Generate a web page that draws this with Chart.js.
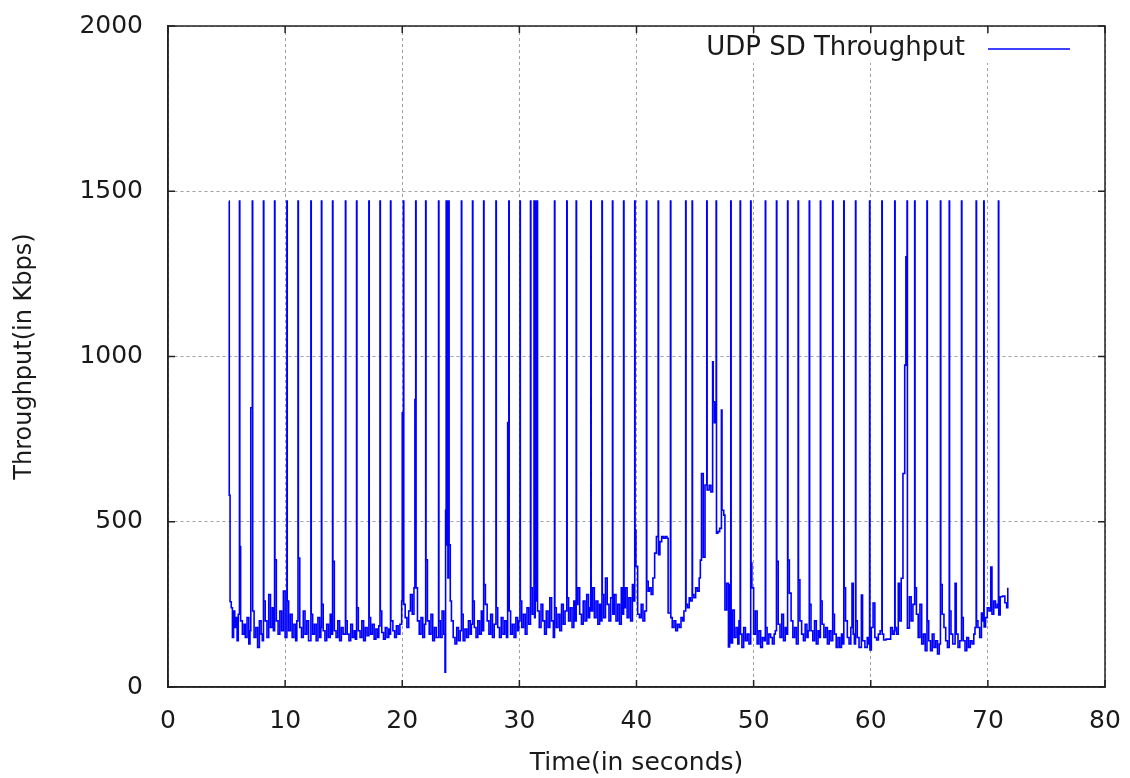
<!DOCTYPE html>
<html>
<head>
<meta charset="utf-8">
<title>UDP SD Throughput</title>
<script src="https://cdn.jsdelivr.net/npm/chart.js@4.4.0/dist/chart.umd.min.js"></script>
<style>
  html, body { margin: 0; padding: 0; background: #fff; }
  #throughput-chart { display: block; }
</style>
</head>
<body>
<canvas id="throughput-chart" width="1130" height="778"></canvas>
<script>
// --- DATA ---
const seriesLabel = 'UDP SD Throughput';
const xTitle = 'Time(in seconds)';
const yTitle = 'Throughput(in Kbps)';
const xTicks = [0, 10, 20, 30, 40, 50, 60, 70, 80];
const yTicks = [0, 500, 1000, 1500, 2000];

// one line per burst (spike) interval
const timeSec = [
    5.2, 5.23, 5.3, 5.4, 5.5, 5.6, 5.7, 5.8, 5.9, 6.0,
    6.1, 6.13, 6.2, 6.35, 6.5, 6.6, 6.75, 6.9, 7.0, 7.07,
    7.2, 7.23, 7.35, 7.5, 7.65, 7.8, 7.95, 8.05,
    8.15, 8.18, 8.3, 8.45, 8.6, 8.75, 8.9, 9.0,
    9.1, 9.13, 9.25, 9.4, 9.55, 9.7, 9.85, 10.0,
    10.15, 10.18, 10.3, 10.45, 10.6, 10.75, 10.9, 11.0,
    11.1, 11.13, 11.25, 11.4, 11.55, 11.7, 11.85, 12.0,
    12.2, 12.23, 12.35, 12.5, 12.65, 12.8, 12.95, 13.05,
    13.1, 13.13, 13.25, 13.4, 13.55, 13.7, 13.85, 13.95,
    14.05, 14.08, 14.2, 14.35, 14.5, 14.65, 14.8, 14.95,
    15.15, 15.18, 15.3, 15.45, 15.6, 15.75, 15.9, 16.0,
    16.1, 16.13, 16.25, 16.4, 16.55, 16.7, 16.85, 17.0,
    17.15, 17.18, 17.3, 17.45, 17.6, 17.75, 17.9, 18.0,
    18.1, 18.13, 18.25, 18.4, 18.55, 18.7, 18.85, 18.95,
    19.0, 19.03, 19.2, 19.35, 19.5, 19.65, 19.8, 19.95, 20.0,
    20.1, 20.13, 20.25, 20.4, 20.55, 20.7, 20.85, 21.0, 21.08,
    21.15, 21.18, 21.3, 21.45, 21.6, 21.75, 21.9,
    22.0, 22.03, 22.15, 22.3, 22.45, 22.6, 22.75, 22.9,
    23.1, 23.13, 23.25, 23.4, 23.55, 23.65, 23.7,
    23.75, 23.8, 23.85, 23.9, 23.95, 24.0, 24.1, 24.2, 24.35, 24.5, 24.65, 24.8, 24.95,
    25.05, 25.08, 25.2, 25.35, 25.5, 25.65, 25.8, 25.9,
    26.0, 26.03, 26.15, 26.3, 26.45, 26.6, 26.75, 26.85,
    26.95, 26.98, 27.1, 27.25, 27.4, 27.55, 27.7, 27.85,
    28.0, 28.03, 28.15, 28.3, 28.45, 28.6, 28.75, 28.9, 29.0,
    29.1, 29.13, 29.25, 29.4, 29.55, 29.7, 29.85, 29.95,
    30.05, 30.08, 30.2, 30.35, 30.5, 30.65, 30.8,
    30.95, 30.98, 31.1, 31.25, 31.3, 31.35, 31.42, 31.5, 31.55, 31.7, 31.85, 32.0, 32.15, 32.3, 32.45, 32.6, 32.75, 32.9,
    33.0, 33.03, 33.15, 33.3, 33.45, 33.6, 33.75, 33.9,
    34.05, 34.08, 34.2, 34.35, 34.5, 34.65, 34.75,
    34.85, 34.88, 35.0, 35.15, 35.3, 35.45, 35.6, 35.75, 35.9, 36.0,
    36.1, 36.13, 36.25, 36.4, 36.55, 36.7, 36.85, 36.95,
    37.05, 37.08, 37.2, 37.35, 37.5, 37.65, 37.8,
    37.95, 37.98, 38.1, 38.25, 38.4, 38.55, 38.7, 38.8,
    38.9, 38.93, 39.05, 39.2, 39.35, 39.5, 39.65, 39.75,
    39.85, 39.88, 39.95, 40.1, 40.25, 40.4, 40.55, 40.7,
    40.85, 40.88, 41.0, 41.1, 41.25, 41.4, 41.55, 41.7,
    41.85, 41.88, 42.0, 42.15, 42.3, 42.45, 42.6, 42.7,
    42.9, 42.93, 43.05, 43.2, 43.35, 43.5, 43.65, 43.8, 43.95, 44.05,
    44.2, 44.23, 44.35, 44.5, 44.6,
    44.75, 44.78, 44.9, 45.05, 45.2, 45.35, 45.45, 45.55, 45.7, 45.85,
    46.0, 46.03, 46.2, 46.35, 46.5, 46.55, 46.65, 46.75,
    46.8, 46.83, 46.95, 47.1, 47.25, 47.3, 47.45, 47.55, 47.7, 47.85, 47.95,
    48.05, 48.08, 48.2, 48.35, 48.5, 48.65, 48.75,
    48.85, 48.88, 49.0, 49.15, 49.3, 49.45, 49.6,
    49.75, 49.78, 49.85, 50.0, 50.15, 50.3, 50.45, 50.6, 50.75, 50.9,
    51.0, 51.03, 51.15, 51.3, 51.45, 51.6, 51.75, 51.85,
    51.95, 51.98, 52.1, 52.25, 52.4, 52.55, 52.7, 52.8,
    52.9, 52.93, 53.05, 53.2, 53.35, 53.5, 53.65,
    53.8, 53.83, 53.95, 54.1, 54.25, 54.4, 54.55, 54.65,
    54.75, 54.78, 54.9, 55.05, 55.2, 55.35, 55.5, 55.6,
    55.7, 55.73, 55.85, 56.0, 56.15, 56.3, 56.45, 56.6,
    56.75, 56.78, 56.9, 57.05, 57.2, 57.35, 57.5, 57.6,
    57.7, 57.73, 57.85, 58.0, 58.15, 58.3, 58.4, 58.5, 58.6,
    58.7, 58.73, 58.85, 59.0, 59.2, 59.3, 59.5, 59.7, 59.8,
    59.9, 59.93, 60.05, 60.2, 60.35, 60.5, 60.65, 60.8,
    60.95, 60.98, 61.1, 61.3, 61.5, 61.7, 61.85, 62.0,
    62.05, 62.08, 62.2, 62.35, 62.45, 62.6, 62.75, 62.9, 63.0,
    63.1, 63.13, 63.3, 63.45, 63.6,
    63.75, 63.78, 63.9, 64.05, 64.2, 64.35, 64.5, 64.65,
    64.8, 64.83, 64.95, 65.1, 65.25, 65.4, 65.55, 65.7, 65.85,
    65.95, 65.98, 66.1, 66.25, 66.4, 66.55,
    66.7, 66.73, 66.85, 67.0, 67.2, 67.3, 67.45, 67.6,
    67.75, 67.78, 67.9, 68.05, 68.2, 68.35, 68.5, 68.65, 68.8, 68.9,
    69.0, 69.03, 69.15, 69.3, 69.45, 69.55,
    69.65, 69.68, 69.8, 69.95, 70.1, 70.25, 70.35, 70.5, 70.65, 70.8,
    70.9, 70.93, 71.05, 71.25, 71.45, 71.6, 71.7
];

const throughputKbps = [
    1470, 580, 258, 240, 150, 230, 180, 210, 140, 220,
    1470, 425, 200, 160, 190, 150, 210, 130, 170, 845,
    1470, 230, 150, 180, 120, 200, 160, 140,
    1470, 260, 200, 150, 280, 180, 240, 170,
    1470, 385, 200, 160, 230, 170, 290, 150,
    1470, 260, 170, 220, 150, 190, 140, 200,
    1470, 390, 180, 150, 230, 160, 200, 140,
    1470, 220, 160, 190, 140, 210, 150, 180,
    1470, 250, 170, 140, 190, 150, 220, 160,
    1470, 380, 170, 150, 200, 140, 180, 160,
    1470, 200, 160, 140, 190, 150, 170, 145,
    1470, 240, 170, 150, 200, 140, 180, 155,
    1470, 210, 160, 190, 145, 175, 150, 185,
    1470, 230, 165, 145, 180, 150, 175, 160,
    1470, 200, 170, 150, 185, 160, 190, 260, 830,
    1470, 250, 210, 180, 230, 280, 220, 300, 870,
    1470, 300, 200, 160, 210, 150, 190,
    1470, 385, 200, 160, 220, 140, 180, 150,
    1470, 200, 150, 230, 160, 45, 535,
    1470, 430, 1470, 330, 1470, 430, 260, 200, 150, 130, 180, 140, 170,
    1470, 220, 140, 175, 150, 200, 160, 190,
    1470, 260, 180, 150, 200, 160, 230, 170,
    1470, 310, 250, 200, 160, 220, 150, 190,
    1470, 240, 180, 150, 210, 160, 200, 150, 800,
    1470, 230, 160, 190, 150, 210, 170, 200,
    1470, 260, 180, 220, 160, 240, 190,
    1470, 300, 220, 1470, 210, 1470, 260, 1470, 230, 180, 250, 200, 160, 230, 180, 270, 200, 150,
    1470, 240, 180, 220, 170, 250, 190, 230,
    1470, 270, 200, 240, 180, 260, 200,
    1470, 250, 300, 220, 190, 260, 200, 280, 210, 240,
    1470, 230, 300, 210, 260, 190, 250, 200,
    1470, 280, 210, 330, 250, 200, 270,
    1470, 220, 280, 200, 250, 190, 300, 220,
    1470, 240, 300, 210, 270, 200, 310, 260,
    1470, 475, 365, 220, 210, 250, 200, 230,
    1470, 320, 290, 300, 280, 330, 405, 455,
    1470, 400, 440, 455, 450, 455, 450, 224,
    1470, 210, 180, 200, 170, 190, 180, 210, 200, 230,
    1470, 250, 240, 270, 260,
    1470, 280, 270, 300, 290, 330, 384, 646, 393, 611,
    1470, 596, 610, 590, 984, 863, 800, 860,
    1470, 465, 470, 480, 838, 535, 520, 233, 314, 121, 309,
    1470, 133, 233, 150, 180, 130, 200,
    1470, 160, 120, 180, 140, 160, 130,
    1470, 375, 300, 160, 230, 130, 170, 120, 150, 140,
    1470, 180, 130, 160, 150, 130, 160, 170,
    1470, 380, 190, 150, 220, 140, 180, 160,
    1470, 384, 284, 200, 150, 180, 130,
    1470, 324, 200, 160, 140, 190, 150, 170,
    1470, 250, 170, 140, 200, 130, 170, 150,
    1470, 260, 190, 150, 180, 130, 170, 140,
    1470, 220, 160, 120, 150, 120, 160, 130,
    1470, 300, 200, 150, 130, 180, 314, 160, 130,
    1470, 200, 150, 120, 278, 140, 120, 150, 130,
    1470, 112, 180, 254, 150, 142, 160, 170,
    1470, 160, 142, 145, 145, 180, 160, 170,
    1470, 180, 160, 314, 200, 329, 646, 974, 1302,
    1470, 178, 273, 200, 250,
    1470, 300, 220, 150, 250, 130, 160, 110,
    1470, 200, 140, 110, 160, 120, 140, 100, 130,
    1470, 310, 220, 180, 140, 120,
    1470, 230, 160, 130, 314, 160, 120, 140,
    1470, 210, 140, 110, 150, 120, 140, 130, 160, 180,
    1470, 200, 180, 150, 224, 200,
    1470, 182, 210, 240, 230, 363, 220, 260, 240, 250,
    1470, 218, 273, 275, 255, 240, 300
];

// --- STYLE ---
const lineBlue = '#0000ff';
const textColor = '#1a1a1a';
const frameColor = '#222';
const fontFamily = '"DejaVu Sans", "Liberation Sans", sans-serif';

// gnuplot-like frame, inward ticks and key inside the plot
const gnuplotFrame = {
    id: 'gnuplotFrame',
    beforeDatasetsDraw(chart) {
        // key box hides the grid behind it
        const { ctx } = chart;
        ctx.save();
        ctx.fillStyle = '#fff';
        ctx.fillRect(690, 34, 390, 29);
        ctx.restore();
    },
    afterDraw(chart) {
        const { ctx, chartArea: a, scales } = chart;
        const tick = 7;
        ctx.save();
        ctx.strokeStyle = frameColor;
        ctx.lineWidth = 1.5;
        ctx.strokeRect(a.left, a.top, a.right - a.left, a.bottom - a.top);

        ctx.beginPath();
        xTicks.forEach(v => {
            const px = scales.x.getPixelForValue(v);
            ctx.moveTo(px, a.bottom); ctx.lineTo(px, a.bottom - tick);
            ctx.moveTo(px, a.top); ctx.lineTo(px, a.top + tick);
        });
        yTicks.forEach(v => {
            const py = scales.y.getPixelForValue(v);
            ctx.moveTo(a.left, py); ctx.lineTo(a.left + tick, py);
            ctx.moveTo(a.right, py); ctx.lineTo(a.right - tick, py);
        });
        ctx.stroke();

        // key
        ctx.font = '26px ' + fontFamily;
        ctx.fillStyle = textColor;
        ctx.textAlign = 'right';
        ctx.textBaseline = 'middle';
        ctx.fillText(chart.data.datasets[0].label, 965, 48);
        ctx.strokeStyle = lineBlue;
        ctx.lineWidth = 1.5;
        ctx.beginPath();
        ctx.moveTo(988, 49);
        ctx.lineTo(1070, 49);
        ctx.stroke();
        ctx.restore();
    }
};

const points = timeSec.map((t, i) => ({ x: t, y: throughputKbps[i] }));

new Chart(document.getElementById('throughput-chart'), {
    type: 'line',
    data: {
        datasets: [{
            label: seriesLabel,
            data: points,
            borderColor: lineBlue,
            borderWidth: 1.6,
            pointRadius: 0,
            stepped: true,
            fill: false
        }]
    },
    options: {
        responsive: false,
        animation: false,
        devicePixelRatio: 1,
        layout: { padding: { top: 26, right: 25, left: 0, bottom: 0 } },
        plugins: {
            legend: { display: false },
            tooltip: { enabled: false }
        },
        scales: {
            x: {
                type: 'linear',
                min: xTicks[0],
                max: xTicks[xTicks.length - 1],
                afterFit: scale => {
                    scale.height = 91;
                    scale.paddingLeft = 0;
                    scale.paddingRight = 0;
                },
                ticks: {
                    stepSize: xTicks[1] - xTicks[0],
                    color: textColor,
                    padding: 19,
                    font: { family: fontFamily, size: 25 },
                    callback: v => String(v)
                },
                grid: { color: '#a0a0a0', lineWidth: 1, drawTicks: false },
                border: { display: true, color: frameColor, width: 1.5, dash: [3, 3] },
                title: {
                    display: true,
                    text: xTitle,
                    color: textColor,
                    padding: { top: 0, bottom: 0 },
                    font: { family: fontFamily, size: 25 }
                }
            },
            y: {
                type: 'linear',
                min: yTicks[0],
                max: yTicks[yTicks.length - 1],
                afterFit: scale => {
                    scale.width = 168;
                    scale.paddingTop = 0;
                    scale.paddingBottom = 0;
                },
                ticks: {
                    stepSize: yTicks[1] - yTicks[0],
                    color: textColor,
                    padding: 25,
                    font: { family: fontFamily, size: 25 },
                    callback: v => String(v)
                },
                grid: { color: '#a0a0a0', lineWidth: 1, drawTicks: false },
                border: { display: true, color: frameColor, width: 1.5, dash: [3, 3] },
                title: {
                    display: true,
                    text: yTitle,
                    color: textColor,
                    padding: { top: 10, bottom: 0 },
                    font: { family: fontFamily, size: 24 }
                }
            }
        }
    },
    plugins: [gnuplotFrame]
});
</script>
</body>
</html>
